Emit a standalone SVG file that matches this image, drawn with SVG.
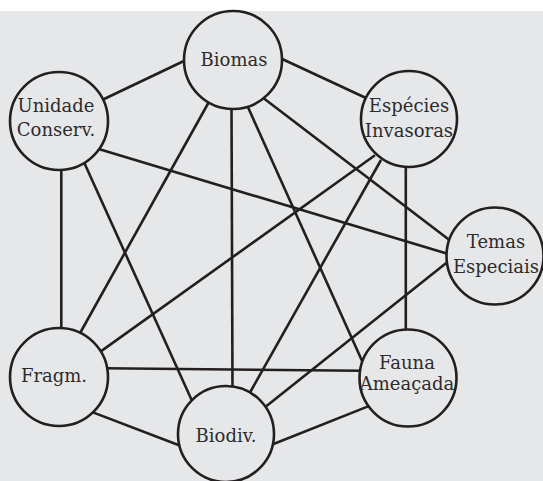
<svg xmlns="http://www.w3.org/2000/svg" width="543" height="481" viewBox="0 0 543 481">
<style>
.bg{fill:#e6e7e8}
.edge{stroke:#231f20;stroke-width:2.6;stroke-linecap:butt;fill:none}
.node circle{fill:#e6e7e8;stroke:#231f20;stroke-width:2.6}
.node text{font-family:"DejaVu Serif","Liberation Serif",serif;font-size:18px;fill:#2e2b2c;text-anchor:middle}
</style>
<rect x="0" y="0" width="543" height="481" fill="#ffffff"/>
<rect class="bg" x="0" y="11" width="543" height="470"/>
<g id="connectors">
<line class="edge" x1="186" y1="60" x2="102" y2="100"/>
<line class="edge" x1="280" y1="58" x2="366" y2="98"/>
<line class="edge" x1="210" y1="100" x2="79" y2="335"/>
<line class="edge" x1="231.5" y1="105" x2="232.5" y2="390"/>
<line class="edge" x1="247" y1="105" x2="363" y2="363"/>
<line class="edge" x1="262" y1="97" x2="452" y2="242"/>
<line class="edge" x1="97" y1="148.6" x2="450" y2="254.5"/>
<line class="edge" x1="61.3" y1="165" x2="61.3" y2="332"/>
<line class="edge" x1="83" y1="160" x2="193" y2="403"/>
<line class="edge" x1="375" y1="155.3" x2="98" y2="353.4"/>
<line class="edge" x1="381" y1="160" x2="248" y2="396"/>
<line class="edge" x1="405.8" y1="165" x2="405.8" y2="333"/>
<line class="edge" x1="450" y1="260" x2="264" y2="408"/>
<line class="edge" x1="105" y1="368.3" x2="361" y2="370.7"/>
<line class="edge" x1="91" y1="411.6" x2="181" y2="446"/>
<line class="edge" x1="271" y1="445" x2="370" y2="405.6"/>
</g>
<g id="biomas" class="node"><circle cx="233" cy="60" r="49"/><text x="234" y="66">Biomas</text></g>
<g id="unidade" class="node"><circle cx="59" cy="121" r="49"/><text x="56" y="112">Unidade</text><text x="56" y="136">Conserv.</text></g>
<g id="especies" class="node"><circle cx="409" cy="119" r="48"/><text x="409" y="112">Espécies</text><text x="409" y="137">Invasoras</text></g>
<g id="temas" class="node"><circle cx="495" cy="256" r="48.5"/><text x="496" y="248">Temas</text><text x="496" y="273">Especiais</text></g>
<g id="fragm" class="node"><circle cx="59" cy="377" r="49"/><text x="54" y="382">Fragm.</text></g>
<g id="fauna" class="node"><circle cx="408" cy="378" r="48.5"/><text x="407" y="369">Fauna</text><text x="407" y="390">Ameaçada</text></g>
<g id="biodiv" class="node"><circle cx="226" cy="434" r="48"/><text x="226" y="442">Biodiv.</text></g>
</svg>
